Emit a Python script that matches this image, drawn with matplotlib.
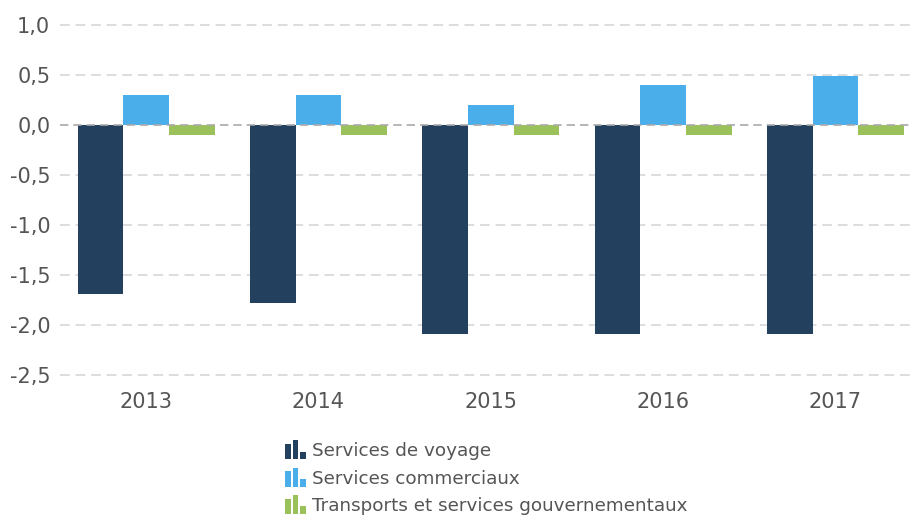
import numpy as np
import matplotlib
matplotlib.use("Agg")
import matplotlib.pyplot as plt
from matplotlib.legend_handler import HandlerBase
from matplotlib.patches import Rectangle, Patch
from matplotlib.ticker import FuncFormatter

plt.rcParams["font.family"] = ["DejaVu Sans"]

years = ["2013", "2014", "2015", "2016", "2017"]
voyage = [-1.69, -1.78, -2.09, -2.09, -2.09]
commerciaux = [0.30, 0.30, 0.20, 0.40, 0.49]
transports = [-0.10, -0.10, -0.10, -0.10, -0.10]
labels = ["Services de voyage", "Services commerciaux",
          "Transports et services gouvernementaux"]
colors = ["#23405f", "#4aaeea", "#9bc25a"]
yticks = [1.0, 0.5, 0.0, -0.5, -1.0, -1.5, -2.0, -2.5]

text_color = "#555555"


class BarIconHandler(HandlerBase):
    # small "bar chart" glyph like the original legend
    def create_artists(self, legend, orig_handle, xdescent, ydescent,
                       width, height, fontsize, trans):
        c = orig_handle.get_facecolor()
        bw = width * 0.24
        gap = width * 0.08
        heights = [0.8, 1.0, 0.4]
        arts = []
        x0 = -xdescent
        for i, h in enumerate(heights):
            r = Rectangle((x0 + i * (bw + gap), -ydescent - height * 0.15),
                          bw, height * 1.3 * h, facecolor=c,
                          edgecolor="none", transform=trans)
            arts.append(r)
        return arts


fig = plt.figure(figsize=(9.13, 5.16), dpi=100)
ax = fig.add_axes([60 / 913, 1 - 375 / 516, (913 - 60) / 913, 350 / 516])

x = np.arange(len(years))
w = 0.265
ax.bar(x - w, voyage, w, color=colors[0], zorder=3)
ax.bar(x, commerciaux, w, color=colors[1], zorder=3)
ax.bar(x + w, transports, w, color=colors[2], zorder=3)

ax.set_xlim(-0.5, 4.45)
ax.set_ylim(-2.5, 1.0)
ax.set_yticks(yticks)
ax.yaxis.set_major_formatter(FuncFormatter(lambda v, p: f"{v:.1f}".replace(".", ",")))
ax.set_xticks(x)
ax.set_xticklabels(years)
ax.tick_params(axis="both", length=0, labelsize=15, colors=text_color)
ax.tick_params(axis="y", pad=7)
ax.tick_params(axis="x", pad=12)

for v in yticks:
    if v == 0:
        ax.axhline(v, color="#aaaaaa", lw=1.2, ls=(0, (5, 3)), zorder=4)
    else:
        ax.axhline(v, color="#dddddd", lw=1.4, ls=(0, (5, 3)), zorder=1, clip_on=False)

for s in ax.spines.values():
    s.set_visible(False)

handles = [Patch(facecolor=c) for c in colors]
leg = fig.legend(handles, labels, loc="upper left",
                 bbox_to_anchor=(278 / 913, 1 - 435 / 516),
                 frameon=False, fontsize=13.2, labelcolor=text_color,
                 handler_map={Patch: BarIconHandler()},
                 handlelength=1.25, handleheight=0.85, handletextpad=0.2,
                 labelspacing=0.5, borderaxespad=0)

fig.savefig("out.png", dpi=100)
